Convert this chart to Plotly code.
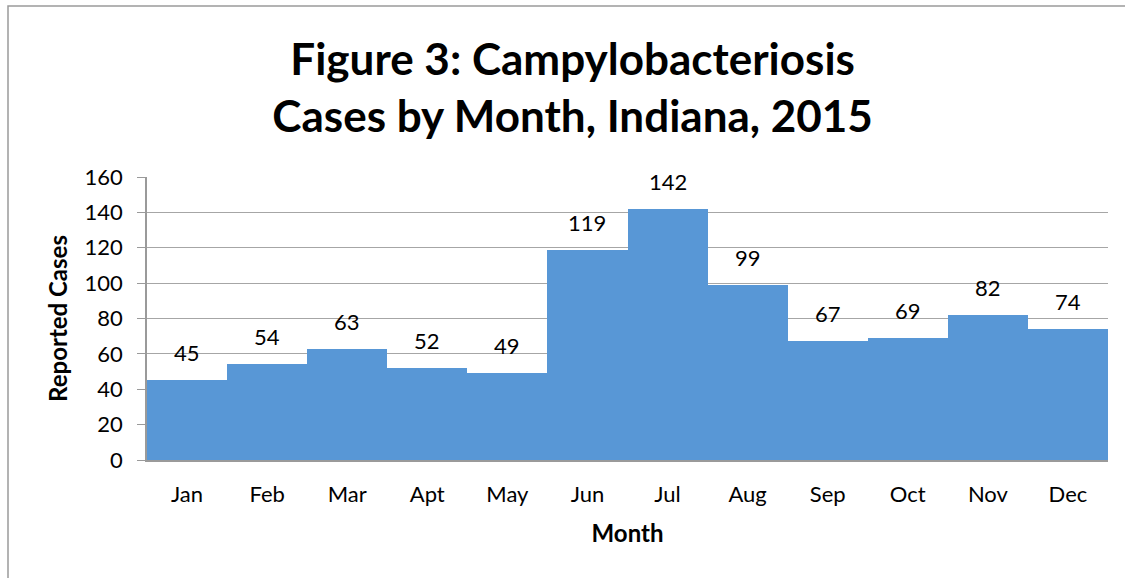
import plotly.graph_objects as go

months = ["Jan", "Feb", "Mar", "Apt", "May", "Jun", "Jul", "Aug", "Sep", "Oct", "Nov", "Dec"]
cases = [45, 54, 63, 52, 49, 119, 142, 99, 67, 69, 82, 74]
y_ticks = [0, 20, 40, 60, 80, 100, 120, 140, 160]

FONT = "Lato"
W, H = 1125, 578
L, R, T, B = 147, 17, 177, 118
PW, PH = W - L - R, H - T - B

fig = go.Figure()
fig.add_trace(go.Bar(
    x=months, y=cases,
    marker=dict(color="#5897D6", line=dict(width=0)),
    hoverinfo="x+y",
))

for m, v in zip(months, cases):
    fig.add_annotation(
        x=m, y=v, text=str(v), showarrow=False,
        xanchor="center", yanchor="bottom", yshift=12,
        font=dict(family=FONT, size=22, color="#000000"),
    )

fig.update_layout(
    width=W, height=H,
    margin=dict(l=L, r=R, t=T, b=B),
    paper_bgcolor="white", plot_bgcolor="white",
    bargap=0,
    showlegend=False,
    title=dict(
        text="Figure 3: Campylobacteriosis<br>Cases by Month, Indiana, 2015",
        x=0.509, xanchor="center", y=0.871, yanchor="top",
        font=dict(family=FONT, size=44, color="#000000", weight="bold"),
    ),
    font=dict(family=FONT, color="#000000"),
    xaxis=dict(
        title=dict(text="<b>Month</b>", font=dict(family=FONT, size=24), standoff=19),
        tickfont=dict(family=FONT, size=22),
        ticklabelstandoff=14,
        showline=True, linecolor="#9A9A9A", linewidth=2,
        ticks="", showgrid=False,
    ),
    yaxis=dict(
        title=dict(text="<b>Reported Cases</b>", font=dict(family=FONT, size=24), standoff=10),
        range=[0, 160], tickvals=y_ticks,
        tickfont=dict(family=FONT, size=22),
        ticklabelstandoff=10,
        showline=True, linecolor="#9A9A9A", linewidth=1.5,
        ticks="outside", ticklen=8, tickcolor="#9A9A9A",
        showgrid=True, gridcolor="#A6A6A6", gridwidth=1.3,
        zeroline=False,
    ),
    shapes=[dict(
        type="rect", xref="paper", yref="paper",
        x0=(8 - L) / PW, x1=1.03, y0=-0.5, y1=(460 - 6) / PH,
        line=dict(color="#9A9A9A", width=1.5), fillcolor="rgba(0,0,0,0)", layer="below",
    )],
)

fig.write_html("out.html", config={"displayModeBar": False},
               post_script="document.body.style.margin='0';")
